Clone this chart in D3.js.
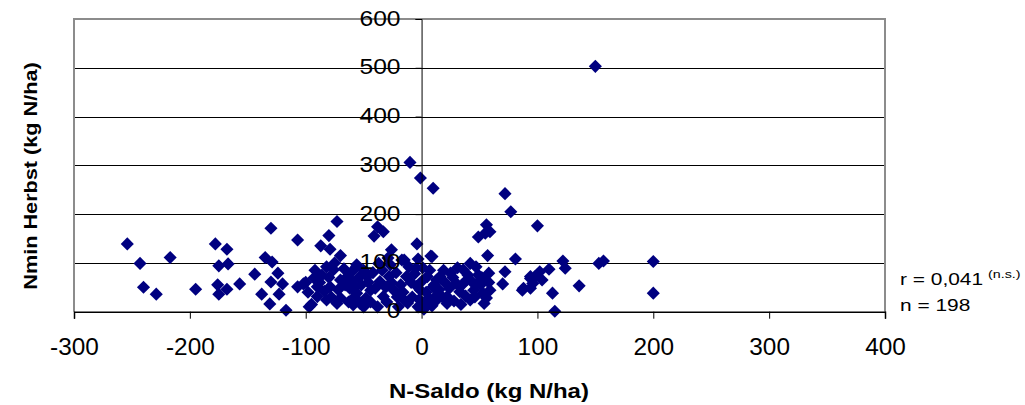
<!DOCTYPE html>
<html>
<head>
<meta charset="utf-8">
<script src="https://cdn.jsdelivr.net/npm/d3@7"></script>
<style>
  html, body { margin: 0; padding: 0; background: #fff; }
  svg { display: block; font-family: Arial, "Liberation Sans", sans-serif; }
</style>
</head>
<body>
<svg id="chart" width="1025" height="405"></svg>
<script>
// N-Saldo (kg N/ha) values
const nSaldo = [
  -254,-243,-217,-240,-229,-195,-178,-168,-175,-167,-176,-175,-168,-157,-144,-138,-131,-130,-135,-129,-124,-130,-120,-123,-117,-107,-107,-102,-97,
  -95,-93,-90,-90,-86,-87,-82,-82,-80,-79,-79,-76,-73,-73,-70,-70,-64,-62,-59,-56,-56,-56,-57,-53,-50,-47,-44,
  -41,-38,-33,-38,-37,-33,-28,-27,-26,-24,-20,-17,-15,-15,-13,-11,-10,-5,-4,-3,-3,-1,-1,
  3,5,8,10,9,10,12,13,13,16,22,22,25,30,33,36,39,42,42,45,48,49,49,53,54,55,56,57,58,59,59,
  70,72,72,77,81,87,88,94,94,96,98,102,104,94,110,100,113,115,122,124,136,150,153,157,200,200,
  -88,-84,-80,-78,-75,-72,-70,-67,-66,-63,-61,-60,-58,-54,-52,-50,-48,-46,-44,-42,-40,-36,-34,-31,-30,-29,-26,-22,-21,-18,-16,-12,-9,-8,-6,-4,-2,
  0,1,2,4,6,7,9,11,15,18,19,20,24,27,28,31,34,35,38,40,44,46,47,51,52,56,58,-92,-98,-100
];
// Nmin Herbst (kg N/ha) values
const nminHerbst = [
  139,99,111,50,36,46,139,128,94,98,55,36,46,57,77,36,16,171,111,102,79,61,57,36,3,147,51,57,10,
  15,69,51,31,75,135,92,24,156,128,51,86,185,17,115,65,72,48,14,92,38,96,51,17,10,72,44,
  155,174,164,10,99,31,72,96,127,44,10,106,24,106,72,92,306,89,139,108,10,44,274,
  17,72,114,253,113,51,31,65,24,72,31,17,79,58,41,86,65,99,24,44,58,153,75,38,17,161,178,115,79,164,44,
  57,82,242,205,108,44,48,72,68,58,72,82,65,48,87,176,38,1,104,89,53,503,99,104,103,38,
  60,42,70,30,100,45,28,88,55,20,80,62,30,70,55,85,28,60,20,80,48,62,85,50,20,110,60,80,30,55,40,18,60,30,78,52,25,
  62,90,5,40,28,85,12,55,45,30,85,60,48,70,22,90,15,55,32,75,60,30,92,55,70,28,60,85,40,60
];
const xTicks = [-300,-200,-100,0,100,200,300,400];
const yTicks = [0,100,200,300,400,500,600];
const xTitle = "N-Saldo (kg N/ha)";
const yTitle = "Nmin Herbst (kg N/ha)";
const statR = "r = 0,041";
const statNS = "(n.s.)";
const statN = "n = 198";

const points = nSaldo.map((v, i) => ({x: v, y: nminHerbst[i]}));
const fmt = d => String(d);

const svg = d3.select("#chart");
const L = 74, R = 885, T = 19, B = 311.7;
const x = d3.scaleLinear().domain([-300, 400]).range([L, R]);
const y = d3.scaleLinear().domain([0, 600]).range([B, T]);

// gridlines
svg.append("g").selectAll("line").data(yTicks.filter(d => d > 0 && d < 600)).join("line")
  .attr("x1", L).attr("x2", R)
  .attr("y1", d => Math.round(y(d)) + 0.5).attr("y2", d => Math.round(y(d)) + 0.5)
  .attr("stroke", "#000").attr("stroke-width", 1);

// plot border (gray)
svg.append("path")
  .attr("d", `M${L},${B} V${T} H${R} V${B}`)
  .attr("fill", "none").attr("stroke", "#8c8c8c").attr("stroke-width", 2);

// points
const diamond = d3.symbol(d3.symbolSquare, 86);
svg.append("g").selectAll("path").data(points).join("path")
  .attr("d", diamond)
  .attr("transform", d => `translate(${x(d.x)},${y(d.y)}) rotate(45)`)
  .attr("fill", "#000080");

// x axis at y = 0
const xAxis = svg.append("g")
  .attr("transform", `translate(0,${B})`)
  .call(d3.axisBottom(x).tickValues(xTicks).tickSize(7).tickFormat(fmt));
xAxis.select(".domain").attr("stroke", "#000").attr("stroke-width", 1.5);
xAxis.selectAll(".tick line").attr("stroke", "#000");
xAxis.selectAll(".tick text")
  .attr("font-size", 23).attr("font-family", "Arial, 'Liberation Sans', sans-serif")
  .attr("fill", "#000").attr("y", 43).attr("dy", null)
  .attr("transform", "scale(1.06,1)");

// y axis at x = 0
const sy = 1.12;
const yAxis = svg.append("g")
  .attr("transform", `translate(${x(0)},0)`)
  .call(d3.axisLeft(y).tickValues(yTicks).tickSize(6).tickFormat(fmt));
yAxis.select(".domain").attr("stroke", "#000").attr("stroke-width", 1);
yAxis.selectAll(".tick line").attr("stroke", "#000");
yAxis.selectAll(".tick text")
  .attr("font-size", 22).attr("font-family", "Arial, 'Liberation Sans', sans-serif")
  .attr("fill", "#000").attr("x", -21 / sy).attr("y", 6).attr("dy", null)
  .attr("transform", `scale(${sy},1)`);

// axis titles
svg.append("text")
  .attr("transform", `translate(489,398) scale(1.2,1)`)
  .attr("text-anchor", "middle").attr("font-weight", "bold").attr("font-size", 20)
  .text(xTitle);
svg.append("text")
  .attr("transform", `translate(37,176) rotate(-90) scale(1.14,1)`)
  .attr("text-anchor", "middle").attr("font-weight", "bold").attr("font-size", 19)
  .text(yTitle);

// stats annotation
svg.append("text").attr("transform", "translate(900,285) scale(1.23,1)")
  .attr("font-size", 17).text(statR);
svg.append("text").attr("transform", "translate(988,278) scale(1.3,1)")
  .attr("font-size", 11).text(statNS);
svg.append("text").attr("transform", "translate(900,311) scale(1.23,1)")
  .attr("font-size", 17).text(statN);
</script>
</body>
</html>
